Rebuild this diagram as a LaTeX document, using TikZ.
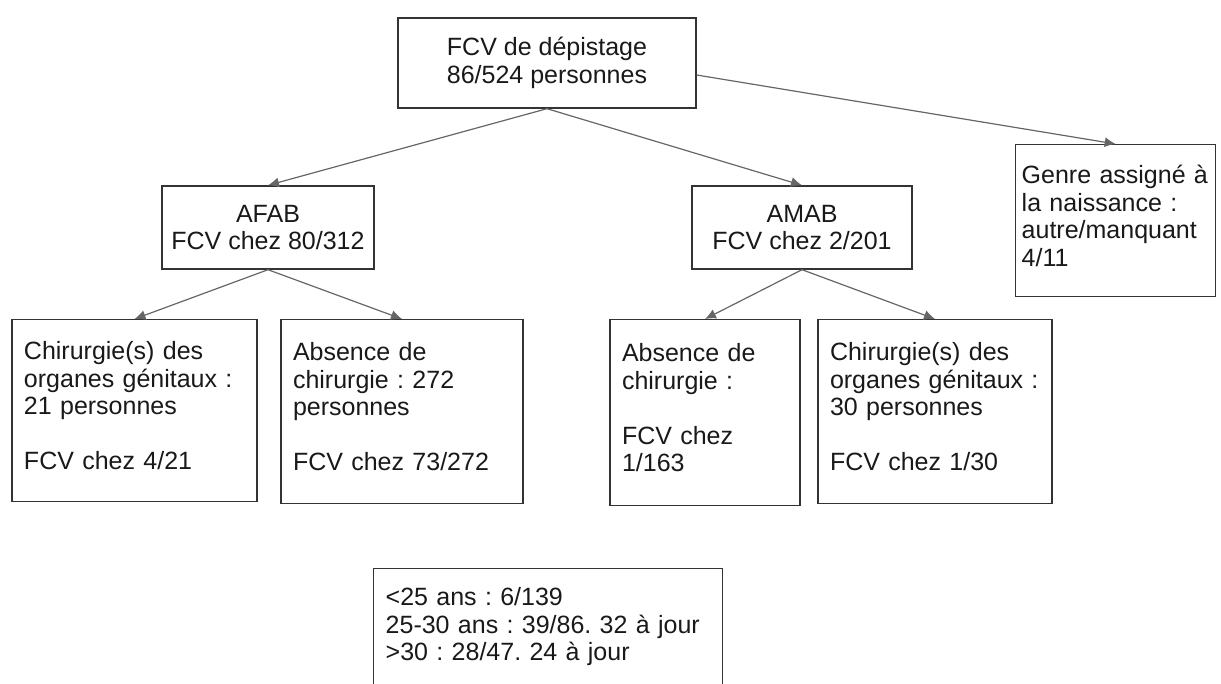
\documentclass[tikz,border=0pt]{standalone}
\usepackage{fontspec}
\setmainfont{Liberation Sans}
\frenchspacing
\usetikzlibrary{arrows.meta}

\tikzset{
  box/.style={draw=black!80, line width=0.7pt, text=black!90, font=\fontsize{12.5}{13.75}\selectfont},
  head/.style={box, align=center, inner sep=0pt},
  leaf/.style={box, align=left, inner xsep=6pt, inner ysep=0pt, anchor=north, execute at end node={\rule[-5pt]{0pt}{0pt}}},
  link/.style={draw=black!60, line width=0.6pt, -{Latex[length=5.5pt,width=5pt]}}
}

\begin{document}
\begin{tikzpicture}[x=0.5pt,y=-0.5pt]
  \useasboundingbox (0,0) rectangle (1221,684);
  \clip (0,0) rectangle (1221,684);
  \node [head, minimum width=149pt, minimum height=45pt] (depistage) at (547,63) {FCV de dépistage\\86/524 personnes};
  \node [head, minimum width=106pt, minimum height=41.5pt] (afab) at (268,227.5) {AFAB\\FCV chez 80/312};
  \node [head, minimum width=110pt, minimum height=41.5pt] (amab) at (802,227.5) {AMAB\\FCV chez 2/201};
  \node [leaf, anchor=north west, text width=94pt, inner xsep=3pt, minimum height=76pt, execute at end node={}] (genre) at (1015,144) {Genre assigné à\\la naissance :\\autre/manquant\\4/11};
  \node [leaf, text width=110.5pt, minimum height=91pt] (chirafab) at (134.5,319) {Chirurgie(s) des\\organes génitaux :\\21 personnes\\~\\FCV chez 4/21};
  \node [leaf, text width=109pt, minimum height=92pt] (sansafab) at (402,319) {Absence de\\chirurgie : 272\\personnes\\~\\FCV chez 73/272};
  \node [leaf, text width=83pt, minimum height=93pt] (sansamab) at (705,319) {Absence de\\chirurgie :\\~\\FCV chez\\1/163};
  \node [leaf, text width=105pt, minimum height=92pt] (chiramab) at (935,319) {Chirurgie(s) des\\organes génitaux :\\30 personnes\\~\\FCV chez 1/30};
  \node [leaf, anchor=north west, text width=162.5pt, inner ysep=9.5pt] (ages) at (373,568) {<25 ans : 6/139\\25-30 ans : 39/86. 32 à jour\\>30 : 28/47. 24 à jour\\~\\~};
  \draw [link] (depistage.south) -- (afab.north);
  \draw [link] (depistage.south) -- (amab.north);
  \draw [link] ([yshift=-6pt]depistage.east) -- (genre.north);
  \draw [link] (afab.south) -- (chirafab.north);
  \draw [link] (afab.south) -- (sansafab.north);
  \draw [link] (amab.south) -- (sansamab.north);
  \draw [link] (amab.south) -- (chiramab.north);
\end{tikzpicture}
\end{document}
